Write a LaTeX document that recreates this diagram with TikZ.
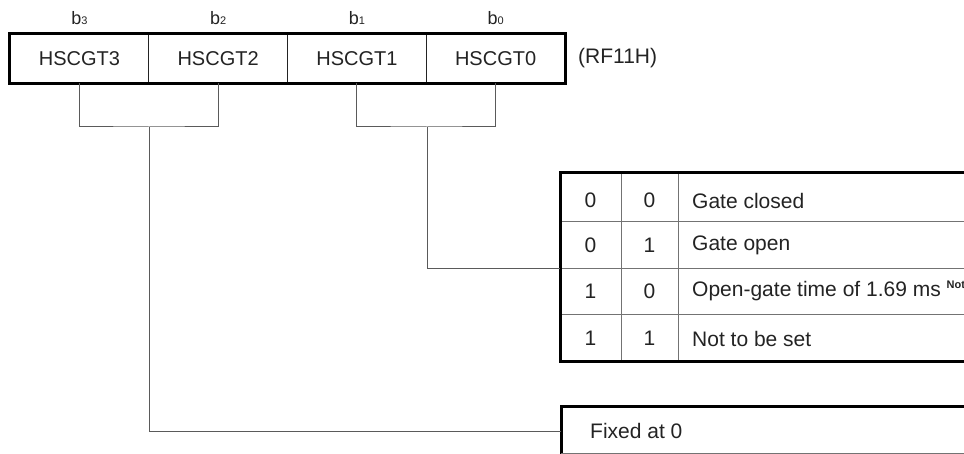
\documentclass[tikz,border=0pt]{standalone}
\usepackage{fontspec}
\setmainfont{Liberation Sans}
\usepackage{tikz}
\usetikzlibrary{positioning,calc}
\definecolor{ink}{RGB}{35,35,35}
\definecolor{wirec}{RGB}{90,90,90}

\begin{document}
\begin{tikzpicture}[x=1pt,y=-1pt,
      regcell/.style={draw=ink,line width=0.9pt,minimum width=138.75pt,minimum height=49pt,inner sep=0pt,text=ink,font=\fontsize{20}{24}\selectfont},
      bit/.style={text=ink,inner sep=0pt,font=\fontsize{18}{20}\selectfont},
      txt/.style={text=ink,inner sep=0pt,font=\fontsize{21}{25}\selectfont},
      frame/.style={black,line width=3pt},
      grid/.style={black!55,line width=1pt},
      wire/.style={wirec,line width=1pt}
    ]
      \useasboundingbox (0,0) rectangle (964,454);
      \clip (0,0) rectangle (964,454);
      % register
      \node[regcell] (g3) at (79.4,58.5)  {HSCGT3};
      \node[regcell] (g2) at (218.1,58.5) {HSCGT2};
      \node[regcell] (g1) at (356.9,58.5) {HSCGT1};
      \node[regcell] (g0) at (495.6,58.5) {HSCGT0};
      \draw[frame] (g3.north west) rectangle (g0.south east);
      \node[txt,anchor=west] (regname) at (578,58.5) {(RF11H)};
      % bit numbers
      \node[bit,above=9pt of g3] (b3) {b{\fontsize{11}{12}\selectfont 3}};
      \node[bit,above=9pt of g2] (b2) {b{\fontsize{11}{12}\selectfont 2}};
      \node[bit,above=9pt of g1] (b1) {b{\fontsize{11}{12}\selectfont 1}};
      \node[bit,above=9pt of g0] (b0) {b{\fontsize{11}{12}\selectfont 0}};
      % brackets
      \coordinate (brA) at (149,127);
      \coordinate (brB) at (427,127);
      \draw[wire] (g3.south) |- (brA) -| (g2.south);
      \draw[wire] (g1.south) |- (brB) -| (g0.south);
      % HSCGT1/0 table
      \draw[grid] (560,222) -- (990,222);
      \draw[grid] (560,269) -- (990,269);
      \draw[grid] (560,315) -- (990,315);
      \draw[grid] (621,173) -- (621,361);
      \draw[grid] (678,173) -- (678,361);
      \draw[frame] (990,173) -- (560,173) -- (560,361) -- (990,361);
      \node[txt] (a00) at (590.5,200.5) {0};
      \node[txt] (c00) at (649.5,200.5) {0};
      \node[txt,anchor=west] (d00) at (692,200.5) {Gate closed};
      \node[txt] (a01) at (590.5,245.5) {0};
      \node[txt] (c01) at (649.5,245.5) {1};
      \node[txt,anchor=west] (d01) at (692,245.5) {Gate open};
      \node[txt] (a10) at (590.5,291) {1};
      \node[txt] (c10) at (649.5,291) {0};
      \node[txt,anchor=west] (d10) at (692,291) {Open-gate time of 1.69 ms \textsuperscript{\fontsize{11}{12}\selectfont\bfseries Note}};
      \node[txt] (a11) at (590.5,338.5) {1};
      \node[txt] (c11) at (649.5,338.5) {1};
      \node[txt,anchor=west] (d11) at (692,338.5) {Not to be set};
      \coordinate (tabin) at (560,269);
      \draw[wire] (brB) |- (tabin);
      % HSCGT3/2 box
      \draw[frame] (990,406) -- (561,406) -- (561,456);
      \draw[grid] (561,453.5) -- (990,453.5);
      \node[txt,anchor=west] (fixed) at (590,431) {Fixed at 0};
      \coordinate (fixin) at (561,431);
      \draw[wire] (brA) |- (fixin);
    \end{tikzpicture}
\end{document}
